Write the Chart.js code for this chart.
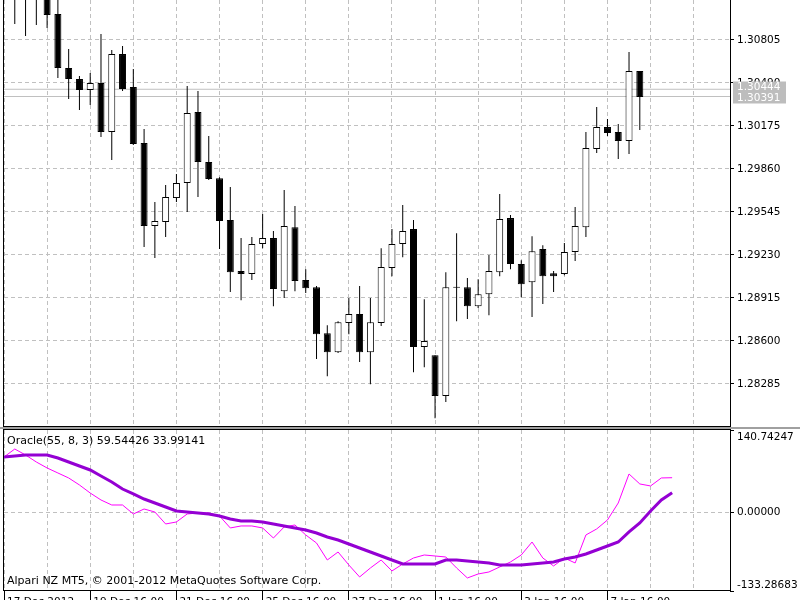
<!DOCTYPE html>
<html>
<head>
<meta charset="utf-8">
<script src="https://cdn.jsdelivr.net/npm/chart.js@4.4.1/dist/chart.umd.min.js"></script>
<style>
  html, body { margin: 0; padding: 0; background: #fff; }
  #wrap { position: relative; width: 800px; height: 600px; overflow: hidden; }
  #priceChart { position: absolute; left: 0; top: 0; }
  #oracleChart { position: absolute; left: 0; top: 428px; }
</style>
</head>
<body>
<div id="wrap">
  <canvas id="priceChart" width="800" height="428"></canvas>
  <canvas id="oracleChart" width="800" height="172"></canvas>
</div>
<script>
// candles, bar 0 .. 58
const opens  = [1.31220, 1.31150, 1.31120, 1.31140, 1.30996, 1.30600, 1.30519, 1.30438, 1.30490, 1.30131,
                1.30702, 1.30460, 1.30050, 1.29442, 1.29471, 1.29647, 1.29757, 1.30277, 1.29911, 1.29793,
                1.29486, 1.29112, 1.29090, 1.29310, 1.29354, 1.28965, 1.29434, 1.29046, 1.28994, 1.28657,
                1.28518, 1.28731, 1.28797, 1.28518, 1.28731, 1.29134, 1.29310, 1.29420, 1.28555, 1.28496,
                1.28196, 1.28994, 1.28994, 1.28855, 1.28943, 1.29104, 1.29500, 1.29163, 1.29031, 1.29273,
                1.29097, 1.29090, 1.29251, 1.29434, 1.30006, 1.30167, 1.30131, 1.30065, 1.30578];
const highs  = [1.31300, 1.31240, 1.31250, 1.31200, 1.31120, 1.30739, 1.30541, 1.30563, 1.30849, 1.30732,
                1.30761, 1.30592, 1.30153, 1.29618, 1.29742, 1.29823, 1.30468, 1.30431, 1.30101, 1.29800,
                1.29728, 1.29354, 1.29361, 1.29530, 1.29405, 1.29706, 1.29588, 1.29126, 1.29002, 1.28716,
                1.28745, 1.28914, 1.29002, 1.28914, 1.29280, 1.29420, 1.29596, 1.29486, 1.28906, 1.28496,
                1.29104, 1.29390, 1.29061, 1.29053, 1.29229, 1.29676, 1.29522, 1.29192, 1.29368, 1.29302,
                1.29112, 1.29317, 1.29581, 1.30131, 1.30314, 1.30226, 1.30189, 1.30717, 1.30578];
const lows   = [1.30922, 1.30834, 1.30915, 1.30893, 1.30526, 1.30373, 1.30292, 1.30329, 1.30094, 1.29925,
                1.30431, 1.30035, 1.29288, 1.29207, 1.29361, 1.29618, 1.29544, 1.29654, 1.29779, 1.29273,
                1.28958, 1.28899, 1.29046, 1.29280, 1.28855, 1.28914, 1.28965, 1.28951, 1.28467, 1.28342,
                1.28511, 1.28650, 1.28445, 1.28283, 1.28709, 1.29075, 1.29214, 1.28371, 1.28408, 1.28034,
                1.28152, 1.28745, 1.28760, 1.28841, 1.28789, 1.29075, 1.29126, 1.28921, 1.28775, 1.28870,
                1.28958, 1.29082, 1.29185, 1.29361, 1.29977, 1.30101, 1.29933, 1.29969, 1.30145];
const closes = [1.31150, 1.31120, 1.31140, 1.30988, 1.30600, 1.30519, 1.30438, 1.30490, 1.30131, 1.30702,
                1.30446, 1.30043, 1.29442, 1.29478, 1.29654, 1.29757, 1.30270, 1.29911, 1.29786, 1.29478,
                1.29104, 1.29090, 1.29310, 1.29354, 1.28980, 1.29442, 1.29039, 1.28987, 1.28650, 1.28518,
                1.28738, 1.28797, 1.28518, 1.28738, 1.29141, 1.29310, 1.29405, 1.28555, 1.28599, 1.28196,
                1.28994, 1.28990, 1.28855, 1.28943, 1.29112, 1.29493, 1.29163, 1.29016, 1.29258, 1.29075,
                1.29075, 1.29251, 1.29442, 1.30013, 1.30167, 1.30123, 1.30065, 1.30578, 1.30387];

const bidPrice = 1.30391;
const askPrice = 1.30444;

// Oracle(55, 8, 3): bar -1 .. 61 (runs 3 bars past the last candle)
const oracleFirstBar = -1;
const oracleMain = [94.8, 96.5, 98.2, 98.2, 98.2, 93.1, 86.3, 79.5, 72.7, 62.5,
                    52.3, 40.3, 31.9, 23.3, 16.5, 9.7, 2.9, 1.2, -0.5, -2.2,
                    -5.6, -10.7, -14.0, -14.0, -15.8, -19.2, -22.6, -26.0, -29.4, -34.6,
                    -41.4, -46.5, -53.3, -60.1, -66.9, -73.7, -80.5, -87.3, -87.3, -87.3,
                    -87.3, -80.5, -80.5, -82.2, -83.9, -85.6, -89.0, -89.0, -89.0, -87.3,
                    -85.6, -83.9, -78.8, -75.4, -70.3, -63.5, -56.7, -49.9, -32.8, -17.5,
                    2.9, 21.6, 33.99141];
const oracleSignal = [94.8, 108.4, 98.2, 86.3, 76.1, 67.6, 59.1, 47.2, 33.5, 21.6,
                      13.1, 13.1, -2.2, 6.3, 1.2, -19.2, -15.8, -2.2, -0.5, -0.5,
                      -5.6, -26.0, -22.6, -22.6, -26.0, -43.1, -24.3, -20.9, -37.9, -51.6,
                      -80.5, -66.9, -89.0, -109.4, -94.1, -80.5, -99.2, -87.3, -77.1, -72.0,
                      -73.7, -75.4, -94.1, -111.1, -104.3, -100.9, -92.4, -83.9, -72.0, -49.9,
                      -77.1, -90.7, -77.1, -85.6, -37.9, -27.7, -12.4, 16.5, 65.9, 48.9,
                      45.5, 59.1, 59.54426];

const priceTicks = [1.28285, 1.28600, 1.28915, 1.29230, 1.29545, 1.29860, 1.30175, 1.30490, 1.30805, 1.31120];
const oracleTicks = [-133.28683, 0, 140.74247];
const gridBars = [-1, 3, 7, 11, 15, 19, 23, 27, 31, 35, 39, 43, 47, 51, 55, 59, 63];
const timeBars = [-1, 7, 15, 23, 31, 39, 47, 55];
const timeLabels = ["17 Dec 2012", "19 Dec 16:00", "21 Dec 16:00", "25 Dec 16:00",
                    "27 Dec 16:00", "1 Jan 16:00", "3 Jan 16:00", "7 Jan 16:00"];

const FONT = "'DejaVu Sans', sans-serif";
const GRID = "#c0c0c0";
const DASH = [4, 3];
const xMin = -1, xMax = 66.37;

// PRICE WINDOW
const candleBars = opens.map((_, i) => i);
const wicks = candleBars.map(i => ({ x: i, y: [lows[i], highs[i]] }));
const bodies = candleBars.map(i => ({ x: i, y: [opens[i], closes[i]] }));
const bodyFill = candleBars.map(i => closes[i] >= opens[i] ? "#ffffff" : "#000000");

const priceFrame = {
  id: "priceFrame",
  afterDraw(chart) {
    const { ctx, chartArea: a, scales: { y } } = chart;
    ctx.save();
    ctx.fillStyle = "#000";
    ctx.fillRect(a.left - 1, 0, 1, a.bottom + 1);
    ctx.fillRect(a.right, 0, 1, a.bottom + 1);
    ctx.fillRect(a.left - 1, a.bottom, a.right - a.left + 2, 1);
    ctx.fillStyle = "#a0a0a0";
    ctx.fillRect(0, a.bottom + 1, chart.width, 1);

    // bid / ask price boxes
    const bidY = Math.round(y.getPixelForValue(bidPrice)) + 0.5;
    ctx.fillStyle = "#bdbdbd";
    ctx.fillRect(a.right + 3, bidY - 16, 53, 22);
    ctx.font = "10.5px " + FONT;
    ctx.fillStyle = "#fff";
    ctx.textBaseline = "middle";
    ctx.fillText(askPrice.toFixed(5), a.right + 7, bidY - 10);
    ctx.fillText(bidPrice.toFixed(5), a.right + 7, bidY + 1);
    ctx.restore();
  }
};

new Chart(document.getElementById("priceChart").getContext("2d"), {
  type: "bar",
  data: {
    datasets: [
      { label: "Body", data: bodies, backgroundColor: bodyFill, borderColor: "#000", borderWidth: 1,
        borderSkipped: false, barThickness: 7, minBarLength: 1, inflateAmount: 0, stack: "c", order: 1 },
      { label: "Wick", data: wicks, backgroundColor: "#000", borderWidth: 0,
        barThickness: 1, inflateAmount: 0, stack: "c", order: 2 },
      { type: "line", label: "Ask", data: [{ x: xMin, y: askPrice }, { x: xMax, y: askPrice }],
        borderColor: "#c0c0c0", borderWidth: 1, pointRadius: 0, order: 3 },
      { type: "line", label: "Bid", data: [{ x: xMin, y: bidPrice }, { x: xMax, y: bidPrice }],
        borderColor: "#c0c0c0", borderWidth: 1, pointRadius: 0, order: 3 }
    ]
  },
  options: {
    responsive: false,
    animation: false,
    devicePixelRatio: 1,
    layout: { padding: { left: 4, right: 0, top: 0, bottom: 2 } },
    plugins: { legend: { display: false }, tooltip: { enabled: false } },
    scales: {
      x: {
        type: "linear", min: xMin, max: xMax, offset: false, stacked: true,
        afterBuildTicks: s => { s.ticks = gridBars.map(v => ({ value: v })); },
        ticks: { display: false },
        grid: { color: GRID, drawTicks: false, offset: false, borderDash: DASH },
        border: { display: false, dash: DASH },
        afterFit: s => { s.height = 0; s.paddingLeft = 0; s.paddingRight = 0; }
      },
      y: {
        position: "right", min: 1.27977, max: 1.31098, stacked: false,
        afterBuildTicks: s => { s.ticks = priceTicks.map(v => ({ value: v })); },
        ticks: { color: "#000", padding: 3, autoSkip: false, font: { family: FONT, size: 10.5 },
                 callback: v => v.toFixed(5) },
        grid: { color: GRID, tickLength: 4, tickColor: "#000", borderDash: DASH },
        border: { display: false, dash: DASH },
        afterFit: s => { s.width = 70; s.paddingTop = 0; s.paddingBottom = 0; }
      }
    }
  },
  plugins: [priceFrame]
});

// ORACLE WINDOW
const oracleBars = oracleMain.map((_, k) => oracleFirstBar + k);

const oracleFrame = {
  id: "oracleFrame",
  afterDraw(chart) {
    const { ctx, chartArea: a, scales: { y } } = chart;
    ctx.save();
    ctx.fillStyle = "#a0a0a0";
    ctx.fillRect(0, 0, chart.width, 1);
    ctx.fillStyle = "#000";
    ctx.fillRect(a.left - 1, a.top - 1, a.right - a.left + 2, 1);
    ctx.fillRect(a.left - 1, a.top - 1, 1, a.bottom - a.top + 1);
    ctx.fillRect(a.right, a.top - 1, 1, a.bottom - a.top + 1);
    ctx.fillRect(a.left - 1, a.bottom - 1, a.right - a.left + 2, 1);

    ctx.font = "10.5px " + FONT;
    ctx.textBaseline = "middle";
    const lx = a.right + 7;
    ctx.fillText(oracleTicks[2].toFixed(5), lx, y.getPixelForValue(oracleTicks[2]) + 7);
    ctx.fillText(oracleTicks[1].toFixed(5), lx, y.getPixelForValue(oracleTicks[1]));
    ctx.fillText(oracleTicks[0].toFixed(5), lx, y.getPixelForValue(oracleTicks[0]) - 6);

    ctx.font = "11px " + FONT;
    const last = oracleMain.length - 1;
    ctx.fillText(`Oracle(55, 8, 3) ${oracleSignal[last].toFixed(5)} ${oracleMain[last].toFixed(5)}`,
                 a.left + 3, a.top + 11);
    ctx.fillText("Alpari NZ MT5, \u00a9 2001-2012 MetaQuotes Software Corp.", a.left + 3, a.bottom - 10);
    ctx.restore();
  }
};

new Chart(document.getElementById("oracleChart").getContext("2d"), {
  type: "line",
  data: {
    datasets: [
      { label: "Oracle", data: oracleBars.map((b, k) => ({ x: b, y: oracleMain[k] })),
        borderColor: "#9400d3", borderWidth: 3, pointRadius: 0, tension: 0, order: 1 },
      { label: "Signal", data: oracleBars.map((b, k) => ({ x: b, y: oracleSignal[k] })),
        borderColor: "#ff00ff", borderWidth: 1, pointRadius: 0, tension: 0, order: 2 }
    ]
  },
  options: {
    responsive: false,
    animation: false,
    devicePixelRatio: 1,
    layout: { padding: { left: 4, right: 0, top: 2, bottom: 0 } },
    plugins: { legend: { display: false }, tooltip: { enabled: false } },
    scales: {
      x: {
        type: "linear", min: xMin, max: xMax, offset: false,
        afterBuildTicks: s => { s.ticks = gridBars.map(v => ({ value: v })); },
        ticks: {
          color: "#000", autoSkip: false, maxRotation: 0, align: "start", labelOffset: 3, padding: -4,
          font: { family: FONT, size: 10.5 },
          callback: v => { const k = timeBars.indexOf(v); return k >= 0 ? timeLabels[k] : ""; }
        },
        grid: {
          color: GRID, tickLength: 9, borderDash: DASH,
          tickColor: c => (c.tick && timeBars.includes(c.tick.value)) ? "#000" : "rgba(0,0,0,0)"
        },
        border: { display: false, dash: DASH },
        afterFit: s => { s.height = 9; s.paddingLeft = 0; s.paddingRight = 0; }
      },
      y: {
        position: "right", min: oracleTicks[0], max: oracleTicks[2],
        afterBuildTicks: s => { s.ticks = oracleTicks.map(v => ({ value: v })); },
        ticks: { display: false },
        grid: {
          tickLength: 4, tickColor: "#000", borderDash: DASH,
          color: c => (c.tick && c.tick.value === 0) ? GRID : "rgba(0,0,0,0)"
        },
        border: { display: false, dash: DASH },
        afterFit: s => { s.width = 70; s.paddingTop = 0; s.paddingBottom = 0; }
      }
    }
  },
  plugins: [oracleFrame]
});
</script>
</body>
</html>
